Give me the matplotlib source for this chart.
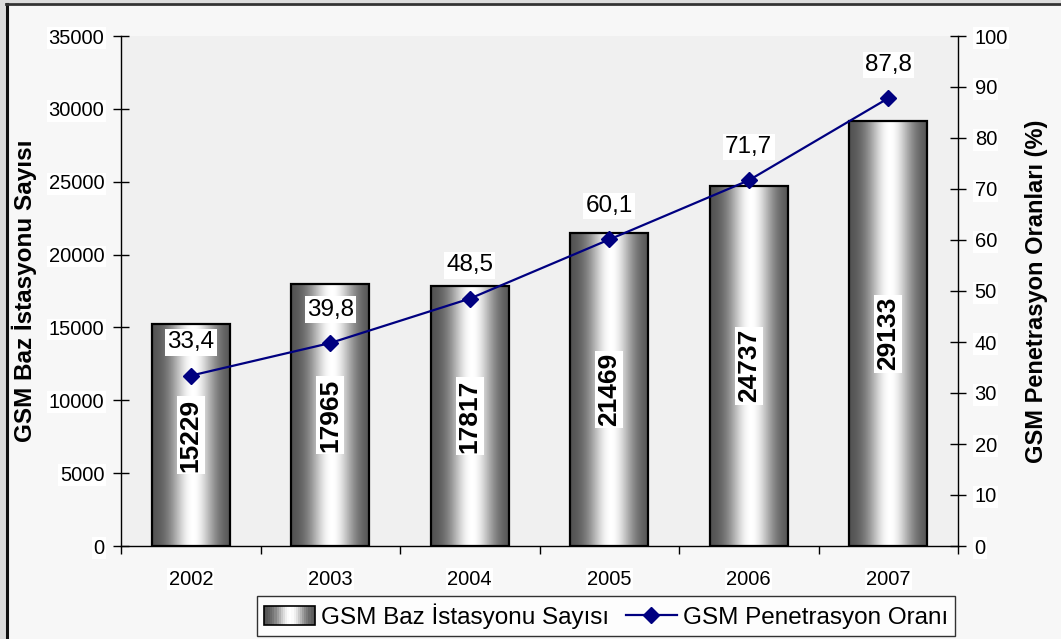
import numpy as np
import matplotlib
matplotlib.use("Agg")
import matplotlib.pyplot as plt
from matplotlib.patches import Rectangle
from matplotlib.legend_handler import HandlerBase
from matplotlib.lines import Line2D

plt.rcParams['font.family'] = ['Liberation Sans', 'DejaVu Sans']

years = ["2002", "2003", "2004", "2005", "2006", "2007"]
stations = [15229, 17965, 17817, 21469, 24737, 29133]
penetration = [33.4, 39.8, 48.5, 60.1, 71.7, 87.8]
left_ticks = [0, 5000, 10000, 15000, 20000, 25000, 30000, 35000]
right_ticks = [0, 10, 20, 30, 40, 50, 60, 70, 80, 90, 100]

W, H = 1061, 639
fig = plt.figure(figsize=(W / 100, H / 100), dpi=100)
fig.patch.set_facecolor("#f7f7f7")

# outer window margin and frame
fig.patches.append(Rectangle((0, 0), 6.5 / W, 1, transform=fig.transFigure,
                             facecolor="#dcdcdc", edgecolor="none", zorder=0))
fig.patches.append(Rectangle((0, 1 - 3 / H), 1, 3 / H, transform=fig.transFigure,
                             facecolor="#dcdcdc", edgecolor="none", zorder=0))
fig.add_artist(Line2D([7 / W, 7 / W], [0, 1 - 3.5 / H], transform=fig.transFigure,
                      color="#111111", lw=2.2))
fig.add_artist(Line2D([6 / W, 1], [1 - 3.5 / H, 1 - 3.5 / H], transform=fig.transFigure,
                      color="#333333", lw=2))

ax = fig.add_axes([121 / W, 1 - 546 / H, (958 - 121) / W, (546 - 36) / H])
ax.set_facecolor("#f0f0f0")
x = np.arange(len(years))

# bars with a horizontal metallic gradient
t = np.linspace(0, 1, 256)
shade = 0.30 + 0.70 * np.exp(-((t - 0.52) / 0.28) ** 2)
shade = np.clip(shade, 0, 1)
grad = np.tile(shade, (2, 1))

bars = ax.bar(x, stations, width=0.56, facecolor="none", edgecolor="black",
              linewidth=1.6, zorder=3)
for b in bars:
    x0, y0, w, h = b.get_x(), b.get_y(), b.get_width(), b.get_height()
    ax.imshow(grad, cmap="gray", vmin=0, vmax=1, aspect="auto",
              extent=(x0, x0 + w, y0, y0 + h), zorder=2, interpolation="bilinear")
    ax.text(x0 + w / 2, h / 2, f"{int(h)}", rotation=90, ha="center", va="center",
            fontsize=19, fontweight="bold", zorder=6,
            bbox=dict(facecolor="white", edgecolor="none", pad=1.5))
ax.set_aspect("auto")
ax.set_xlim(-0.5, len(years) - 0.5)
ax.set_ylim(0, 35000)

ax.set_yticks(left_ticks)
ax.set_yticklabels([str(v) for v in left_ticks])
ax.set_xticks(x)
ax.set_xticklabels(years)
ax.set_xticks(np.arange(len(years) + 1) - 0.5, minor=True)
ax.tick_params(axis="x", which="major", length=0, pad=17, labelsize=14.5)
ax.tick_params(axis="x", which="minor", length=6, direction="out", width=1)
ax.tick_params(axis="y", direction="inout", length=12, width=1, labelsize=14.5, pad=6)
for lab in ax.get_yticklabels() + ax.get_xticklabels():
    lab.set_bbox(dict(facecolor="white", edgecolor="none", pad=1))
ax.spines["top"].set_visible(False)
ax.spines["right"].set_visible(False)
ax.spines["left"].set_linewidth(1)
ax.spines["bottom"].set_linewidth(1)
ax.set_ylabel("GSM Baz İstasyonu Sayısı", fontsize=17.5, fontweight="bold", labelpad=8)

ax2 = ax.twinx()
ax2.set_ylim(0, 100)
ax2.set_yticks(right_ticks)
ax2.set_yticklabels([str(v) for v in right_ticks])
ax2.tick_params(axis="y", direction="inout", length=12, width=1, labelsize=14.5, pad=6)
for lab in ax2.get_yticklabels():
    lab.set_bbox(dict(facecolor="white", edgecolor="none", pad=1))
for s in ["top", "left", "bottom"]:
    ax2.spines[s].set_visible(False)
ax2.spines["right"].set_linewidth(1)
ax2.set_ylabel("GSM Penetrasyon Oranları (%)", fontsize=17, fontweight="bold",
               labelpad=12)

ax2.plot(x, penetration, color="#000080", lw=1.6, marker="D", markersize=8,
         zorder=5)
for xi, v in zip(x, penetration):
    ax2.annotate(f"{v:.1f}".replace(".", ","), (xi, v), xytext=(0, 24),
                 textcoords="offset points", ha="center", va="center",
                 fontsize=17.5, zorder=7,
                 bbox=dict(facecolor="white", edgecolor="none", pad=1.5))


class GradientHandler(HandlerBase):
    def create_artists(self, legend, orig_handle, xdescent, ydescent, width,
                       height, fontsize, trans):
        arts = []
        n = 24
        for i in range(n):
            c = shade[int((i + 0.5) / n * 255)]
            arts.append(Rectangle((-xdescent + width * i / n, -ydescent), width / n,
                                  height, facecolor=(c, c, c), edgecolor="none",
                                  transform=trans))
        arts.append(Rectangle((-xdescent, -ydescent), width, height,
                              facecolor="none", edgecolor="black", lw=1.2,
                              transform=trans))
        return arts


bar_handle = Rectangle((0, 0), 1, 1)
line_handle = Line2D([], [], color="#000080", lw=1.6, marker="D", markersize=8)
leg = fig.legend([bar_handle, line_handle],
                 ["GSM Baz İstasyonu Sayısı", "GSM Penetrasyon Oranı"],
                 handler_map={Rectangle: GradientHandler()},
                 loc="center", bbox_to_anchor=(606 / W, 1 - 616 / H), ncol=2,
                 fontsize=17.5, frameon=True, fancybox=False, edgecolor="black",
                 handlelength=2.1, handleheight=0.8, handletextpad=0.25,
                 columnspacing=0.7, borderpad=0.3)
leg.get_frame().set_linewidth(1)
leg.get_frame().set_facecolor("white")

fig.savefig("out.png", dpi=100, facecolor=fig.get_facecolor())
